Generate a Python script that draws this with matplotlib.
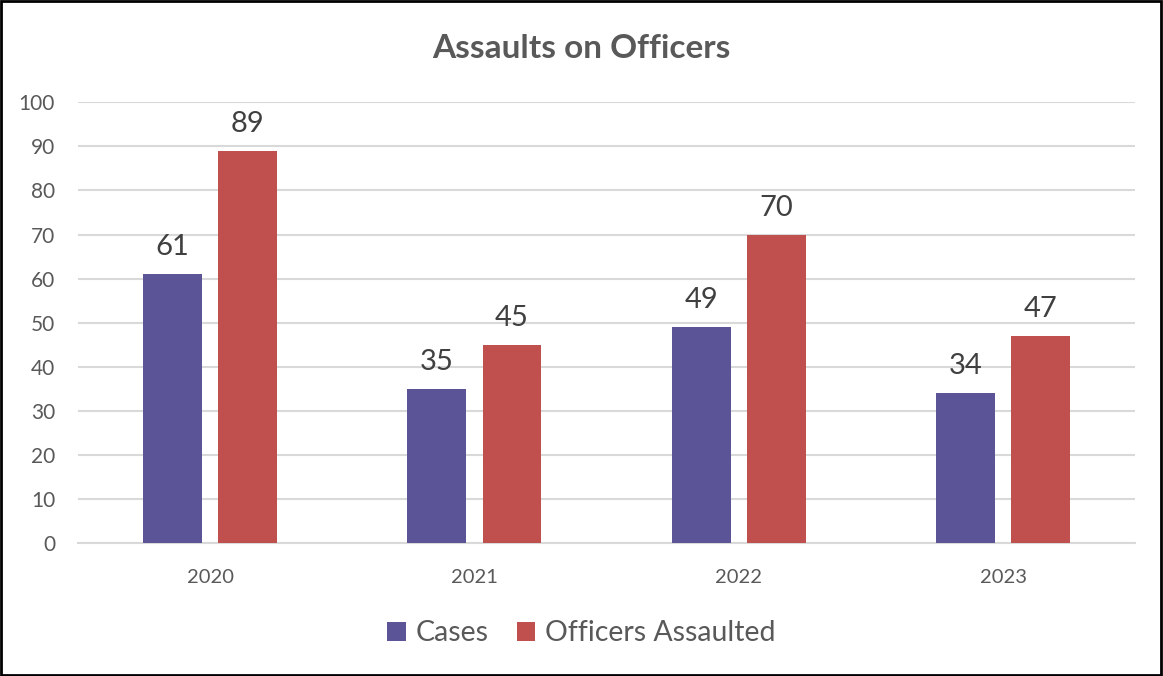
import matplotlib
matplotlib.use("Agg")
import matplotlib.pyplot as plt
import numpy as np
from matplotlib.patches import Rectangle

years = ["2020", "2021", "2022", "2023"]
cases = [61, 35, 49, 34]
officers = [89, 45, 70, 47]
series_names = ["Cases", "Officers Assaulted"]

plt.rcParams['font.family'] = ['Lato', 'DejaVu Sans']
txt = "#595959"
c_cases = "#5B5597"
c_off = "#C0504D"

fig = plt.figure(figsize=(11.63, 6.76), dpi=100)
ax = fig.add_axes([0.0671, 0.1967, 0.909, 0.652])

x = np.arange(len(years))
w = 0.223
off = 0.142
b1 = ax.bar(x - off, cases, w, color=c_cases, label=series_names[0], zorder=3)
b2 = ax.bar(x + off, officers, w, color=c_off, label=series_names[1], zorder=3)

for bars in (b1, b2):
    for r in bars:
        ax.annotate(f"{int(r.get_height())}", (r.get_x() + r.get_width() / 2, r.get_height()),
                    xytext=(0, 10), textcoords="offset points", ha="center", va="bottom",
                    fontsize=21, color="#404040")

ax.set_xlim(-0.5, 3.5)
ax.set_ylim(0, 100)
ax.set_yticks(range(0, 101, 10))
ax.set_xticks(x)
ax.set_xticklabels(years)
ax.yaxis.grid(True, color="#D9D9D9", linewidth=1.5, zorder=0)
ax.set_axisbelow(True)
for s in ["top", "right", "left"]:
    ax.spines[s].set_visible(False)
ax.spines["bottom"].set_color("#D9D9D9")
ax.spines["bottom"].set_linewidth(1.5)
ax.tick_params(axis="both", length=0, colors=txt)
ax.tick_params(axis="y", pad=16.5, labelsize=15)
ax.tick_params(axis="x", pad=19, labelsize=14.5)

fig.text(0.5, 0.928, "Assaults on Officers", ha="center", va="center",
         fontsize=24, fontweight="bold", color=txt)

leg = fig.legend(loc="center", bbox_to_anchor=(0.5, 0.063), ncol=2, frameon=False,
                 fontsize=20.5, labelcolor=txt, handlelength=0.65, handleheight=0.65,
                 columnspacing=1.0, handletextpad=0.35)

fig.patches.append(Rectangle((0.001, 0.002), 0.997, 0.996, transform=fig.transFigure,
                             fill=False, edgecolor="black", linewidth=2))

fig.savefig("out.png", dpi=100)
